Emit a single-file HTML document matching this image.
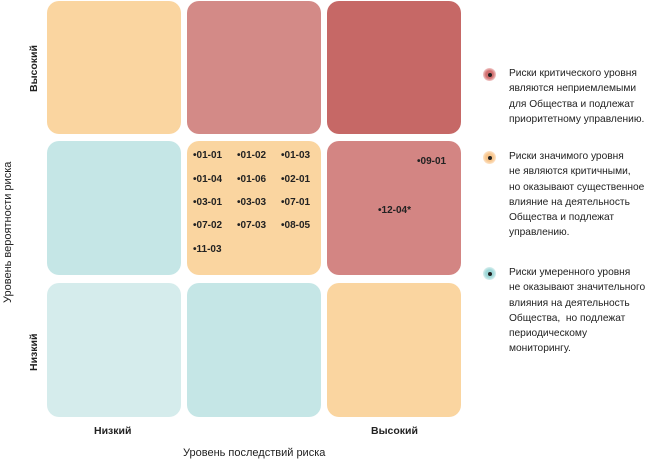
<!DOCTYPE html><html><head><meta charset="utf-8"><style>
body{margin:0;width:668px;height:462px;background:#fff;position:relative;font-family:"Liberation Sans Narrow","Liberation Sans",sans-serif;overflow:hidden}
.c{position:absolute;width:134px;height:133px;border-radius:12px}
.t{position:absolute;font-weight:bold;font-size:10px;color:#222;white-space:nowrap}
.l{position:absolute;left:509px;font-size:10.2px;line-height:15.3px;color:#222;width:160px;white-space:nowrap}
.d{position:absolute;width:13px;height:13px;border-radius:50%}
.d::after{content:"";position:absolute;left:4.5px;top:4.5px;width:4px;height:4px;border-radius:50%;background:#222}
.ax{position:absolute;font-size:11px;color:#222;white-space:nowrap}
</style></head><body>
<div class="c" style="left:47px;top:1px;background:#fad5a0"></div>
<div class="c" style="left:187px;top:1px;background:#d38a87"></div>
<div class="c" style="left:327px;top:1px;background:#c66866"></div>
<div class="c" style="left:47px;top:141px;height:134px;background:#c5e6e6"></div>
<div class="c" style="left:187px;top:141px;height:134px;background:#fad5a0"></div>
<div class="c" style="left:327px;top:141px;height:134px;background:#d38583"></div>
<div class="c" style="left:47px;top:283px;height:134px;background:#d5ecec"></div>
<div class="c" style="left:187px;top:283px;height:134px;background:#c5e6e6"></div>
<div class="c" style="left:327px;top:283px;height:134px;background:#fad5a0"></div>
<div class="t" style="left:193px;top:150px">•01-01</div><div class="t" style="left:237px;top:150px">•01-02</div><div class="t" style="left:281px;top:150px">•01-03</div>
<div class="t" style="left:193px;top:174px">•01-04</div><div class="t" style="left:237px;top:174px">•01-06</div><div class="t" style="left:281px;top:174px">•02-01</div>
<div class="t" style="left:193px;top:197px">•03-01</div><div class="t" style="left:237px;top:197px">•03-03</div><div class="t" style="left:281px;top:197px">•07-01</div>
<div class="t" style="left:193px;top:220px">•07-02</div><div class="t" style="left:237px;top:220px">•07-03</div><div class="t" style="left:281px;top:220px">•08-05</div>
<div class="t" style="left:193px;top:244px">•11-03</div>
<div class="t" style="left:417px;top:156px">•09-01</div>
<div class="t" style="left:378px;top:205px">•12-04*</div>
<div class="t" style="left:94px;top:425px;font-size:10.5px">Низкий</div>
<div class="t" style="left:371px;top:425px;font-size:10.5px">Высокий</div>
<div class="t" style="left:28px;top:92px;transform:rotate(-90deg);transform-origin:0 0;font-size:10.5px">Высокий</div>
<div class="t" style="left:28px;top:371px;transform:rotate(-90deg);transform-origin:0 0;font-size:10.5px">Низкий</div>
<div class="ax" style="left:183px;top:447px">Уровень последствий риска</div>
<div class="ax" style="left:2px;top:303px;transform:rotate(-90deg);transform-origin:0 0">Уровень вероятности риска</div>
<div class="d" style="left:483px;top:68px;background:radial-gradient(#d27070 40%,#f0c6c6 70%)"></div>
<div class="d" style="left:483px;top:151px;background:radial-gradient(#f7c58c 40%,#fde3c6 70%)"></div>
<div class="d" style="left:483px;top:267px;background:radial-gradient(#9fd8d8 40%,#d8eeee 70%)"></div>
<div class="l" style="top:66px">Риски критического уровня<br>являются неприемлемыми<br>для Общества и подлежат<br>приоритетному управлению.</div>
<div class="l" style="top:149px">Риски значимого уровня<br>не являются критичными,<br>но оказывают существенное<br>влияние на деятельность<br>Общества и подлежат<br>управлению.</div>
<div class="l" style="top:265px">Риски умеренного уровня<br>не оказывают значительного<br>влияния на деятельность<br>Общества,&nbsp; но подлежат<br>периодическому<br>мониторингу.</div>
</body></html>
